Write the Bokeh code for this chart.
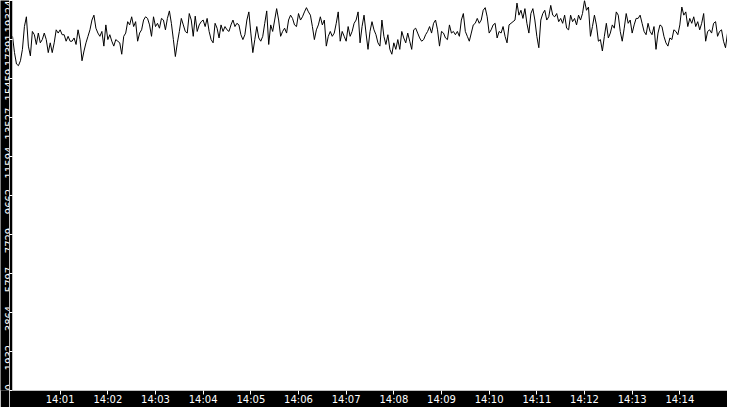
import math
import pandas as pd
from bokeh.plotting import figure
from bokeh.layouts import row
from bokeh.models import Range1d, FixedTicker, DatetimeTickFormatter, ColumnDataSource
from bokeh.core.properties import value
from bokeh.embed import file_html
from bokeh.resources import INLINE

# ---- data ----
day = "2024-01-01"
start_time = "14:00:00"
end_time = "14:15:00"
sample_step = "2500ms"

values = [
    17549, 16742, 16177, 16096, 16338, 16903, 18033, 18517, 17064, 16580,
    17791, 17629, 17145, 17710, 17226, 17387, 17710, 17387, 16742, 17226,
    16742, 17226, 17871, 17710, 17871, 17629, 17629, 17307, 17549, 17307,
    17307, 17468, 17145, 17871, 17387, 16338, 16822, 17226, 17549, 17871,
    18356, 18598, 17952, 17710, 17549, 17791, 17064, 18114, 17387, 17629,
    17307, 17064, 17387, 17307, 17226, 16661, 17549, 17710, 18275, 18114,
    18517, 18033, 18275, 17307, 17710, 17871, 18356, 18517, 18436, 18114,
    17549, 18517, 18033, 18194, 17952, 18436, 18356, 17871, 18436, 18808,
    18194, 17387, 16548, 17226, 17791, 18436, 18114, 17791, 17710, 18678,
    18356, 17549, 18549, 17791, 18114, 18275, 18356, 18033, 18436, 17791,
    17387, 17226, 18194, 17952, 17468, 18114, 17791, 18033, 17871, 17791,
    18114, 18356, 18033, 18194, 18114, 17629, 17387, 17629, 18356, 18759,
    17710, 16742, 17387, 18033, 17468, 17307, 17549, 18194, 18808, 17145,
    18114, 17791, 18356, 18921, 18356, 17549, 17791, 17952, 17710, 18356,
    18598, 18436, 18114, 18033, 18678, 18356, 18517, 18759, 18969, 18759,
    18598, 18033, 17387, 17871, 18114, 18517, 18114, 18356, 17064, 17549,
    17791, 17549, 17710, 18194, 18759, 17307, 17791, 17549, 17307, 18033,
    17549, 17791, 18194, 18356, 18759, 17226, 18033, 18598, 17710, 16903,
    17791, 18275, 17871, 17629, 17226, 17064, 18356, 17549, 17145, 17629,
    16903, 16661, 17226, 16903, 17387, 16903, 17791, 17468, 17226, 17710,
    17307, 16903, 17871, 17952, 17710, 17468, 17307, 17387, 17629, 17791,
    18033, 17710, 18194, 18356, 17871, 17064, 17791, 17710, 17468, 17387,
    18114, 17710, 17791, 17629, 17791, 17549, 18356, 18678, 17791, 17549,
    17307, 17710, 18114, 18194, 18436, 18194, 18356, 18840, 18969, 18517,
    17710, 17871, 18114, 18194, 17468, 17791, 17710, 18033, 17549, 17226,
    18114, 18194, 18275, 18356, 19195, 18598, 18840, 18436, 18921, 18194,
    17710, 18678, 18921, 18356, 17549, 16984, 18356, 18678, 18840, 18356,
    18517, 19082, 18598, 18517, 18678, 18275, 18436, 18194, 18598, 17952,
    17871, 18598, 18275, 18436, 18114, 18598, 18356, 18678, 19324, 18840,
    19001, 17549, 18033, 18598, 18114, 17307, 17387, 16822, 17549, 18194,
    17468, 17710, 18114, 17952, 18759, 18598, 17791, 17307, 17952, 18678,
    18194, 18356, 17710, 18114, 18436, 18436, 18598, 18194, 17791, 17629,
    18194, 17791, 17629, 18033, 16903, 17710, 18114, 18033, 17549, 17226,
    17064, 17468, 17387, 17871, 17791, 17629, 18114, 19001, 18598, 18759,
    18033, 18436, 18194, 18517, 18033, 18275, 17871, 18194, 18678, 17307,
    17791, 17871, 17710, 18194, 18275, 17549, 17791, 17871, 17307, 16984,
    17710,
]

x_tick_labels = ["14:01", "14:02", "14:03", "14:04", "14:05", "14:06", "14:07",
                 "14:08", "14:09", "14:10", "14:11", "14:12", "14:13", "14:14"]
y_max = 19324
y_tick_labels = ["0", "1932", "3864", "5797", "7729", "9662",
                 "11594", "13527", "15459", "17391", "19324"]

# ---- layout / style ----
fig_h = 407
label_col_w = 9          # black column holding the y tick labels
main_w = 718             # plot incl. the small tick strip
band_h = 16              # bottom black band with the time labels
font = "DejaVu Sans"
font_px = 10

times = pd.date_range(f"{day} {start_time}", periods=len(values), freq=sample_step)
y_range = Range1d(0, y_max)

p = figure(width=main_w, height=fig_h, x_axis_type="datetime",
           output_backend="svg", toolbar_location=None,
           x_range=Range1d(pd.Timestamp(f"{day} {start_time}"), pd.Timestamp(f"{day} {end_time}")),
           y_range=y_range,
           min_border_left=0, min_border_right=0, min_border_top=0, min_border_bottom=band_h)

p.line(times, values, line_color="black", line_width=1)

p.border_fill_color = "black"
p.background_fill_color = "white"
p.outline_line_color = None
p.xgrid.visible = False
p.ygrid.visible = False

# x axis
x_ticks = [pd.Timestamp(f"{day} {lab}").value / 1e6 for lab in x_tick_labels]
p.xaxis.ticker = FixedTicker(ticks=x_ticks)
p.xaxis.formatter = DatetimeTickFormatter(
    seconds="%H:%M", minsec="%H:%M", minutes="%H:%M", hourmin="%H:%M",
    hours="%H:%M", days="%H:%M", context=None)
p.xaxis.major_label_text_color = "white"
p.xaxis.major_label_text_font = font
p.xaxis.major_label_text_font_size = f"{font_px}px"
p.xaxis.major_tick_line_color = "white"
p.xaxis.major_tick_out = 4
p.xaxis.major_tick_in = 0
p.xaxis.minor_tick_line_color = None
p.xaxis.axis_line_color = None
p.xaxis.major_label_standoff = -1

# y axis: the axis draws the ticks; its labels are drawn in the column beside it
y_ticks = [y_max * k / (len(y_tick_labels) - 1) for k in range(len(y_tick_labels))]
p.yaxis.ticker = FixedTicker(ticks=y_ticks)
p.yaxis.major_label_overrides = {t: "" for t in y_ticks}
p.yaxis.major_label_text_font_size = "1px"
p.yaxis.major_label_standoff = 0
p.yaxis.major_tick_line_color = "white"
p.yaxis.major_tick_out = 3
p.yaxis.major_tick_in = 0
p.yaxis.minor_tick_line_color = None
p.yaxis.axis_line_color = None

# label placement: just below each tick, kept inside the plot height, no overlaps
frame_h = fig_h - band_h
digit_w = 0.636 * font_px
shift, gap = 6, 2
offsets = [0.0] * len(y_ticks)
prev_end = None
for k in reversed(range(len(y_ticks))):
    tick_px = (1 - y_ticks[k] / y_max) * frame_h
    half = len(y_tick_labels[k]) * digit_w / 2
    c = min(max(tick_px + shift, half), frame_h - half)
    if prev_end is not None and c - half < prev_end + gap:
        c = prev_end + gap + half
    prev_end = c + half
    offsets[k] = c - tick_px

lab = figure(width=label_col_w, height=fig_h, output_backend="svg", toolbar_location=None,
             x_range=Range1d(0, label_col_w), y_range=y_range,
             x_axis_location=None, y_axis_location=None,
             min_border_left=0, min_border_right=0, min_border_top=0, min_border_bottom=band_h)
lab.background_fill_color = "black"
lab.border_fill_color = "black"
lab.outline_line_color = None
lab.grid.visible = False

lab_src = ColumnDataSource(dict(x=[label_col_w - 0.7] * len(y_ticks), y=y_ticks,
                                text=y_tick_labels, off=offsets))
lab.text(x="x", y="y", text="text", y_offset="off", source=lab_src,
         angle=math.pi / 2, text_align="center", text_baseline="alphabetic",
         text_color="white", text_font=value(font), text_font_size=value(f"{font_px}px"))

layout = row(lab, p)
open("out.html", "w").write(file_html(layout, INLINE))
